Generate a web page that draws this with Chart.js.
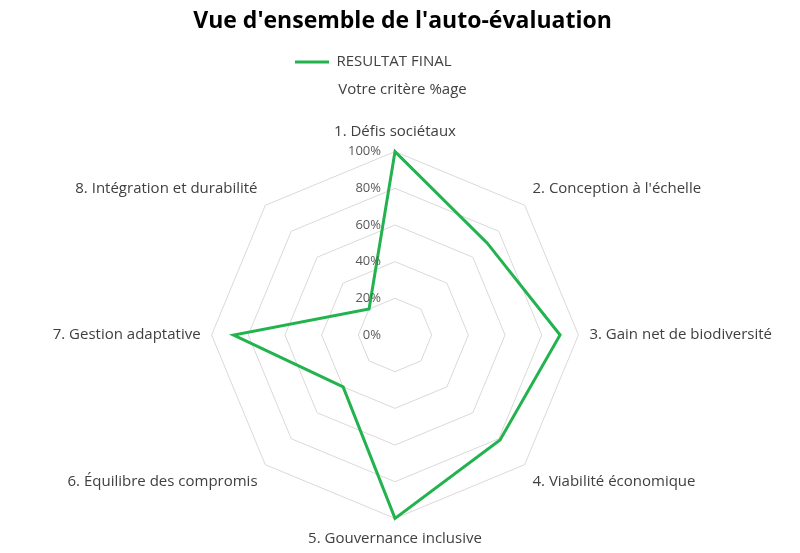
<!DOCTYPE html>
<html>
<head>
<meta charset="utf-8">
<script src="https://cdn.jsdelivr.net/npm/chart.js@4/dist/chart.umd.min.js"></script>
<style>
  body { margin: 0; background: #fff; }
  #wrap { width: 800px; height: 553px; position: relative; }
</style>
</head>
<body>
<div id="wrap"><canvas id="radar"></canvas></div>
<script>
const criteres = [
    '1. Défis sociétaux',
    '2. Conception à l\'échelle',
    '3. Gain net de biodiversité',
    '4. Viabilité économique',
    '5. Gouvernance inclusive',
    '6. Équilibre des compromis',
    '7. Gestion adaptative',
    '8. Intégration et durabilité',
];
const resultat_final = [100, 71, 90, 81, 100, 40, 88, 20];
const tick_values = [0, 20, 40, 60, 80, 100];

const FONT = "'Open Sans', 'Liberation Sans', sans-serif";
const TXT = '#404040';
const GREEN = 'rgb(34, 178, 78)';

// tick labels drawn right-aligned next to the vertical axis, like the original
const tickLabels = {
    id: 'tickLabels',
    afterDatasetsDraw(chart) {
        const scale = chart.scales.r;
        const ctx = chart.ctx;
        ctx.save();
        ctx.font = '13px ' + FONT;
        ctx.fillStyle = '#595959';
        ctx.textAlign = 'right';
        ctx.textBaseline = 'middle';
        tick_values.forEach(v => {
            const d = scale.getDistanceFromCenterForValue(v);
            ctx.fillText(v + '%', scale.xCenter - 14, scale.yCenter - d);
        });
        ctx.restore();
    }
};

const data_radar = {
    labels: criteres,
    datasets: [
        {
            label: 'RESULTAT FINAL',
            data: resultat_final,
            borderColor: GREEN,
            backgroundColor: GREEN,
            borderWidth: 3,
            fill: false,
            pointRadius: 0,
            pointHoverRadius: 0,
        }
    ]
};

const config_radar = {
    type: 'radar',
    data: data_radar,
    plugins: [tickLabels],
    options: {
        maintainAspectRatio: false,
        responsive: true,
        animation: false,
        layout: { padding: { left: 10, right: 5, bottom: 4 } },
        scales: {
            r: {
                min: 0,
                max: 100,
                ticks: { stepSize: 20, display: false },
                grid: { color: '#d9d9d9', lineWidth: 1 },
                angleLines: { display: false },
                pointLabels: {
                    padding: 11,
                    color: TXT,
                    font: { family: FONT, size: 15 },
                },
            }
        },
        plugins: {
            legend: {
                position: 'top',
                labels: {
                    boxWidth: 34,
                    boxHeight: 3,
                    color: TXT,
                    padding: 4,
                    font: { family: FONT, size: 15 },
                    // thin line sample, entry pushed a bit left like the original
                    generateLabels(chart) {
                        const items = Chart.defaults.plugins.legend.labels.generateLabels(chart);
                        items.forEach(it => {
                            it.lineWidth = 0;
                            it.text = it.text + '\u00a0'.repeat(15);
                        });
                        return items;
                    },
                },
            },
            subtitle: {
                display: true,
                text: 'Votre critère %age',
                color: TXT,
                weight: 500,
                font: { family: FONT, size: 15 },
                padding: { top: 1, bottom: 24 },
            },
            title: {
                display: true,
                text: 'Vue d\'ensemble de l\'auto-évaluation',
                color: '#000',
                font: { family: FONT, size: 23, weight: 'bold' },
                padding: { top: 8, bottom: 15 },
            },
            tooltip: { enabled: false },
        },
    },
};

const myRadar = new Chart(
    document.getElementById('radar'),
    config_radar
);
</script>
</body>
</html>
